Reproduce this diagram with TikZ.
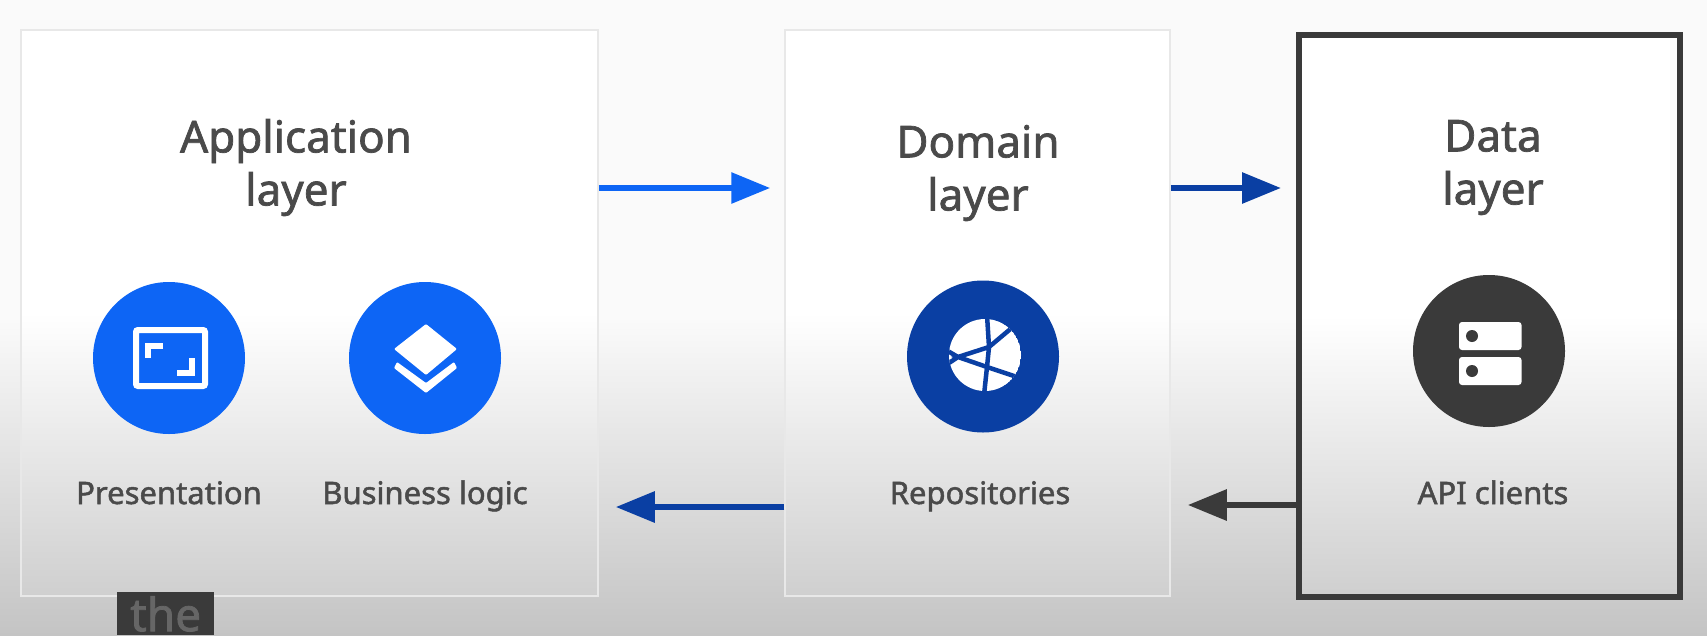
\documentclass[tikz,border=0pt]{standalone}
\usepackage{fontspec}
\setmainfont[FakeBold=1.6]{Noto Sans}
\usetikzlibrary{arrows.meta}
\definecolor{inkgray}{HTML}{4A4A4A}
\definecolor{darkgray}{HTML}{3A3A3A}
\definecolor{brightblue}{HTML}{0D65F5}
\definecolor{deepblue}{HTML}{0A3FA3}
\definecolor{boxfade}{HTML}{CFCFCF}
\definecolor{backfade}{HTML}{C4C4C4}
\definecolor{backtop}{HTML}{FAFAFA}

\begin{document}
\begin{tikzpicture}[
    x=1pt,y=-1pt,
    layerbox/.style={draw=black!9,line width=1.5pt,top color=white,bottom color=boxfade,middle color=white,minimum width=#1,minimum height=566pt,inner sep=0pt},
    iconcircle/.style={circle,fill=#1,minimum size=152pt,inner sep=0pt},
    heading/.style={text=inkgray,align=center,font=\fontsize{44}{53}\selectfont},
    caption/.style={text=inkgray,anchor=base,font=\fontsize{31}{36}\selectfont},
    flow/.style={#1,line width=6pt,-{Triangle[length=39pt,width=30pt]}},
    ]
    \useasboundingbox (0,0) rectangle (1707,635);
    \fill[backtop] (0,0) rectangle (1707,320);
    \shade[top color=backtop,bottom color=backfade] (0,320) rectangle (1707,635);

    % boxes
    \node[layerbox=577pt] (appbox) at (309.5,313) {};
    \node[layerbox=385pt] (domainbox) at (977.5,313) {};
    \node[layerbox=381pt,draw=darkgray,line width=6pt,minimum height=562pt] (databox) at (1489.5,316) {};

    % titles
    \node[heading] (apptitle) at (296,167.5) {Application\\layer};
    \node[heading] (domaintitle) at (978,173) {Domain\\layer};
    \node[heading] (datatitle) at (1493,167.5) {Data\\layer};

    % icons
    \node[iconcircle=brightblue] (presicon) at (169,358) {};
    \node[iconcircle=brightblue] (logicicon) at (425,358) {};
    \node[iconcircle=deepblue] (repoicon) at (983,356.5) {};
    \node[iconcircle=darkgray] (apiicon) at (1489,351) {};

    \draw[white,line width=6pt,rounded corners=2pt] (136,330) rectangle (205,386);
    \draw[white,line width=6pt] (163,346) -- (148,346) -- (148,358);
    \draw[white,line width=6pt] (177,373) -- (192,373) -- (192,358);

    \fill[white,rounded corners=1pt] (426,324) -- (457,349) -- (426,375) -- (394,349) -- cycle;
    \fill[white,rounded corners=1pt] (394,368) -- (397,362) -- (426,383) -- (454,362) -- (457,368) -- (426,393) -- cycle;

    \begin{scope}
      \clip (985,355) circle (36);
      \fill[white] (985,355) circle (36);
      \draw[deepblue,line width=4.5pt]
        (987,315) -- (989,347) -- (987,367) -- (984,395)
        (1014,326) -- (989,347) -- (958,357) -- (987,367) -- (1020,378)
        (946,350) -- (958,357) -- (946,365);
    \end{scope}

    \fill[white,rounded corners=3pt] (1459,322) rectangle (1521.5,350);
    \fill[white,rounded corners=3pt] (1459,357) rectangle (1521.5,385);
    \fill[darkgray] (1472,336) circle (6);
    \fill[darkgray] (1472,371) circle (6);

    % labels
    \node[caption] (preslabel) at (169,504) {Presentation};
    \node[caption] (logiclabel) at (425,504) {Business logic};
    \node[caption] (repolabel) at (980,504) {Repositories};
    \node[caption] (apilabel) at (1493,504) {API clients};

    % arrows
    \coordinate (toprow) at (0,188);
    \coordinate (lowrow) at (0,507);
    \coordinate (lowrowb) at (0,505);
    \draw[flow=brightblue,shorten >=14pt] (appbox.east |- toprow) -- (domainbox.west |- toprow);
    \draw[flow=deepblue,shorten >=15pt] (domainbox.east |- toprow) -- (databox.west |- toprow);
    \draw[flow=deepblue,shorten >=17pt] (domainbox.west |- lowrow) -- (appbox.east |- lowrow);
    \draw[flow=darkgray,shorten >=17pt] (databox.west |- lowrowb) -- (domainbox.east |- lowrowb);

    % subtitle box
    \node[fill=darkgray,text=black!60,anchor=north west,minimum width=97pt,minimum height=43pt,inner sep=0pt,font=\fontsize{46}{52}\selectfont,text depth=0pt] (subtitle) at (117,592) {the};
\end{tikzpicture}
\end{document}
